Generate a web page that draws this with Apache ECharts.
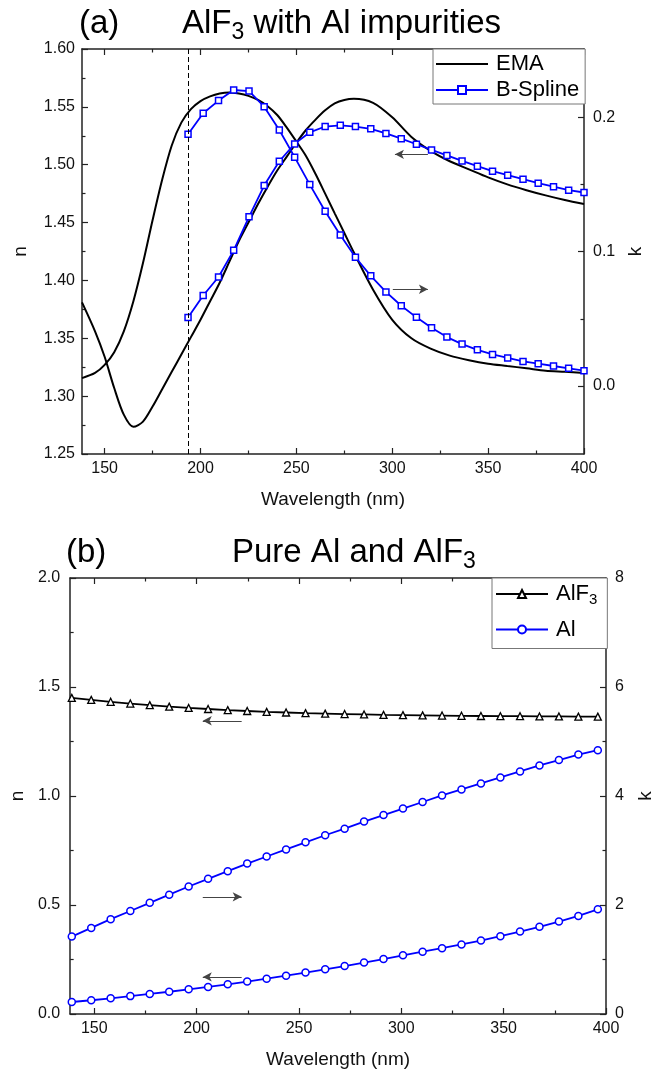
<!DOCTYPE html>
<html>
<head>
<meta charset="utf-8">
<script src="https://cdn.jsdelivr.net/npm/echarts@6/dist/echarts.min.js"></script>
<style>
  html, body { margin: 0; padding: 0; background: #fff; }
  #chart { width: 663px; height: 1074px; }
</style>
</head>
<body>
<div id="chart"></div>
<script>
// (a) EMA model, n and k
const emaWave = [138.2,145,150,155,160,165,170,175,180,185,190,195,200,205,210,215,220,225,230,235,240,245,250,255,260,265,270,275,280,290,300,310,320,330,340,350,360,370,380,390,400];
const emaN = [1.381,1.356,1.334,1.307,1.284,1.2735,1.278,1.291,1.306,1.321,1.336,1.351,1.366,1.382,1.398,1.416,1.434,1.450,1.466,1.481,1.495,1.507,1.519,1.530,1.539,1.547,1.553,1.556,1.557,1.5535,1.541,1.524,1.512,1.503,1.496,1.489,1.483,1.478,1.4735,1.4695,1.466];
const emaK = [0.0059,0.0097,0.0157,0.0252,0.0407,0.0631,0.0915,0.1234,0.1535,0.1790,0.1960,0.2060,0.2120,0.2155,0.2177,0.2185,0.2177,0.2159,0.2129,0.2082,0.2017,0.1923,0.1819,0.1712,0.1578,0.1432,0.1285,0.1139,0.0993,0.0717,0.0493,0.0355,0.0278,0.0226,0.0192,0.0166,0.0149,0.0132,0.0114,0.0106,0.0097];

// (a) B-Spline fit
const splineWave = [193.5,201.4,209.4,217.3,225.3,233.2,241.1,249.1,257.0,265.0,272.9,280.8,288.8,296.7,304.7,312.6,320.5,328.5,336.4,344.4,352.3,360.2,368.2,376.1,384.1,392.0,400.0];
const splineN = [1.368,1.387,1.403,1.426,1.455,1.482,1.503,1.518,1.528,1.533,1.534,1.533,1.531,1.527,1.5225,1.5177,1.5128,1.508,1.5033,1.4987,1.4944,1.491,1.4875,1.484,1.481,1.478,1.476];
const splineK = [0.1873,0.2030,0.2124,0.2203,0.2195,0.2079,0.1905,0.1703,0.1499,0.1301,0.1123,0.0958,0.0820,0.0700,0.0597,0.0511,0.0433,0.0364,0.0312,0.0269,0.0235,0.0209,0.0183,0.0166,0.0149,0.0132,0.0114];

// (b) pure Al and AlF3
const pureWave = [139.0,148.5,158.0,167.6,177.1,186.6,196.1,205.6,215.2,224.7,234.2,243.7,253.2,262.8,272.3,281.8,291.3,300.8,310.4,319.9,329.4,338.9,348.4,358.0,367.5,377.0,386.5,396.0];
const alf3N = [1.450,1.441,1.432,1.424,1.417,1.410,1.404,1.399,1.394,1.390,1.386,1.383,1.380,1.378,1.376,1.374,1.372,1.371,1.370,1.369,1.368,1.367,1.366,1.366,1.365,1.365,1.364,1.364];
const alK = [1.42,1.58,1.74,1.89,2.04,2.19,2.34,2.48,2.62,2.76,2.89,3.02,3.15,3.28,3.40,3.53,3.65,3.77,3.89,4.01,4.12,4.23,4.34,4.45,4.56,4.66,4.76,4.84];
const alN = [0.055,0.063,0.072,0.082,0.092,0.102,0.113,0.124,0.136,0.149,0.162,0.176,0.190,0.205,0.220,0.236,0.252,0.269,0.286,0.302,0.319,0.337,0.357,0.378,0.400,0.424,0.450,0.480];

// tick labels
const waveMajor = [150,200,250,300,350,400];
const waveMinor = [175,225,275,325,375];
const nTicksA = [1.25,1.30,1.35,1.40,1.45,1.50,1.55,1.60];
const nMinorA = [1.275,1.325,1.375,1.425,1.475,1.525,1.575];
const kTicksA = [0,0.1,0.2];
const kMinorA = [0.05,0.15];
const nTicksB = [0,0.5,1.0,1.5,2.0];
const nMinorB = [0.25,0.75,1.25,1.75];
const kTicksB = [0,2,4,6,8];
const kMinorB = [1,3,5,7];

const FONT = '"Liberation Sans", Arial, sans-serif';
const BLUE = '#0000ff';
const AXIS = '#222';

function zip(xs, ys) {
  return xs.map((x, i) => [x, ys[i]]);
}

// frame side with labels and major ticks
function xMain(grid, pos, show) {
  return {
    type: 'value', gridIndex: grid, position: pos, min: 138.2, max: 400,
    axisLine: { show: true, onZero: false, lineStyle: { color: AXIS, width: 1.5 } },
    axisTick: { show: true, inside: true, length: 6, customValues: waveMajor, lineStyle: { color: AXIS, width: 1.2 } },
    axisLabel: show ? { show: true, customValues: waveMajor, margin: 7, fontSize: 16, color: '#111', fontFamily: FONT } : { show: false },
    splitLine: { show: false },
    name: show ? 'Wavelength (nm)' : '', nameLocation: 'middle', nameGap: 36,
    nameTextStyle: { fontSize: 19, color: '#111', fontFamily: FONT }
  };
}
// minor ticks only
function xMinor(grid, pos) {
  return {
    type: 'value', gridIndex: grid, position: pos, min: 138.2, max: 400,
    axisLine: { show: false, onZero: false },
    axisTick: { show: true, inside: true, length: 3.5, customValues: waveMinor, lineStyle: { color: AXIS, width: 1.2 } },
    axisLabel: { show: false }, splitLine: { show: false }
  };
}
function yMain(grid, pos, min, max, ticks, fmt, name, gap, labelMargin) {
  return {
    type: 'value', gridIndex: grid, position: pos, min: min, max: max,
    axisLine: { show: true, onZero: false, lineStyle: { color: AXIS, width: 1.5 } },
    axisTick: { show: true, inside: true, length: 6, customValues: ticks, lineStyle: { color: AXIS, width: 1.2 } },
    axisLabel: { show: true, customValues: ticks, margin: labelMargin, fontSize: 16, color: '#111', fontFamily: FONT, formatter: fmt },
    splitLine: { show: false },
    name: name, nameLocation: 'middle', nameGap: gap, nameRotate: 90,
    nameTextStyle: { fontSize: 19, color: '#111', fontFamily: FONT }
  };
}
function yMinor(grid, pos, min, max, ticks) {
  return {
    type: 'value', gridIndex: grid, position: pos, min: min, max: max,
    axisLine: { show: false, onZero: false },
    axisTick: { show: true, inside: true, length: 3.5, customValues: ticks, lineStyle: { color: AXIS, width: 1.2 } },
    axisLabel: { show: false }, splitLine: { show: false }
  };
}

function arrow(from, to) {
  return {
    silent: true, symbol: ['none', 'arrow'], symbolSize: [7, 9],
    label: { show: false },
    lineStyle: { color: '#444', width: 1, type: 'solid' },
    data: [[{ coord: from }, { coord: to }]]
  };
}

const rich = {
  t: { fontSize: 33, fontFamily: FONT, color: '#000' },
  s: { fontSize: 23, fontFamily: FONT, color: '#000', padding: [18, 0, 0, 0] }
};

const chart = echarts.init(document.getElementById('chart'), null, { renderer: 'canvas' });

const option = {
  animation: false,
  backgroundColor: '#fff',
  grid: [
    { left: 82, top: 49, width: 502, height: 405 },
    { left: 67, top: 578, width: 541, height: 436 }
  ],
  xAxis: [
    xMain(0, 'bottom', true), xMinor(0, 'bottom'), xMain(0, 'top', false), xMinor(0, 'top'),
    xMain(1, 'bottom', true), xMinor(1, 'bottom'), xMain(1, 'top', false), xMinor(1, 'top')
  ],
  yAxis: [
    yMain(0, 'left', 1.25, 1.60, nTicksA, v => v.toFixed(2), 'n', 52, 7),
    yMinor(0, 'left', 1.25, 1.60, nMinorA),
    yMain(0, 'right', -0.0506, 0.2508, kTicksA, v => v.toFixed(1), 'k', 40, 9),
    yMinor(0, 'right', -0.0506, 0.2508, kMinorA),
    yMain(1, 'left', 0, 2, nTicksB, v => v.toFixed(1), 'n', 40, 10),
    yMinor(1, 'left', 0, 2, nMinorB),
    yMain(1, 'right', 0, 8, kTicksB, v => String(v), 'k', 30, 9),
    yMinor(1, 'right', 0, 8, kMinorB)
  ],
  legend: [
    {
      data: [{ name: 'EMA', itemStyle: { opacity: 0 } }, 'B-Spline'], left: 433, top: 49, orient: 'vertical',
      padding: [4, 6, 3, 2], itemGap: 4, itemWidth: 52, itemHeight: 10,
      borderColor: '#777', borderWidth: 1, backgroundColor: '#fff',
      textStyle: { rich: { a: { fontSize: 22, fontFamily: FONT, color: '#000', lineHeight: 24, padding: [0, 0, 0, 3] } } },
      formatter: name => '{a|' + name + '}'
    },
    {
      data: ['AlF3', 'Al'], left: 492, top: 578, orient: 'vertical',
      padding: [5, 10, 8, 3], itemGap: 11, itemWidth: 52, itemHeight: 10,
      borderColor: '#777', borderWidth: 1, backgroundColor: '#fff',
      textStyle: {
        rich: {
          a: { fontSize: 22, fontFamily: FONT, color: '#000', lineHeight: 24, padding: [0, 0, 0, 3] },
          s: { fontSize: 15, fontFamily: FONT, color: '#000', padding: [12, 0, 0, 0] }
        }
      },
      formatter: name => name === 'AlF3' ? '{a|AlF}{s|3}' : '{a|' + name + '}'
    }
  ],
  graphic: [
    { type: 'text', style: { text: '(a)', x: 79, y: 24, verticalAlign: 'middle', font: '33px ' + FONT, fill: '#000' } },
    { type: 'text', style: { text: '{t|AlF}{s|3}{t| with Al impurities}', x: 182, y: 24, verticalAlign: 'middle', rich: rich } },
    { type: 'text', style: { text: '(b)', x: 66, y: 553, verticalAlign: 'middle', font: '33px ' + FONT, fill: '#000' } },
    { type: 'text', style: { text: '{t|Pure Al and AlF}{s|3}', x: 232, y: 553, verticalAlign: 'middle', rich: rich } }
  ],
  series: [
    {
      name: 'EMA', type: 'line', xAxisIndex: 0, yAxisIndex: 0, data: zip(emaWave, emaN),
      smooth: 0.3, showSymbol: false, symbol: 'none', lineStyle: { color: '#000', width: 2 }, itemStyle: { color: '#000' },
      markLine: {
        silent: true, symbol: ['none', 'none'], label: { show: false },
        lineStyle: { color: '#000', width: 1, type: [5, 3] },
        data: [{ xAxis: 193.5 }]
      }
    },
    {
      name: 'EMA', type: 'line', xAxisIndex: 0, yAxisIndex: 2, data: zip(emaWave, emaK),
      smooth: 0.3, showSymbol: false, symbol: 'none', lineStyle: { color: '#000', width: 2 }, itemStyle: { color: '#000' }
    },
    {
      name: 'B-Spline', type: 'line', xAxisIndex: 0, yAxisIndex: 0, data: zip(splineWave, splineN),
      symbol: 'rect', symbolSize: 6, lineStyle: { color: BLUE, width: 1.8 },
      itemStyle: { color: '#fff', borderColor: BLUE, borderWidth: 1.5 },
      markLine: arrow([318.6, 1.509], [301.4, 1.509])
    },
    {
      name: 'B-Spline', type: 'line', xAxisIndex: 0, yAxisIndex: 2, data: zip(splineWave, splineK),
      symbol: 'rect', symbolSize: 6, lineStyle: { color: BLUE, width: 1.8 },
      itemStyle: { color: '#fff', borderColor: BLUE, borderWidth: 1.5 },
      markLine: arrow([300.3, 0.072], [318.6, 0.072])
    },
    {
      name: 'AlF3', type: 'line', xAxisIndex: 4, yAxisIndex: 4, data: zip(pureWave, alf3N),
      symbol: 'triangle', symbolSize: 7, lineStyle: { color: '#000', width: 1.8 },
      itemStyle: { color: '#fff', borderColor: '#000', borderWidth: 1.3 },
      markLine: arrow([222, 1.345], [203, 1.345])
    },
    {
      name: 'Al', type: 'line', xAxisIndex: 4, yAxisIndex: 6, data: zip(pureWave, alK),
      symbol: 'circle', symbolSize: 7, lineStyle: { color: BLUE, width: 1.8 },
      itemStyle: { color: '#fff', borderColor: BLUE, borderWidth: 1.5 },
      markLine: arrow([203, 2.15], [222, 2.15])
    },
    {
      name: 'Al', type: 'line', xAxisIndex: 4, yAxisIndex: 4, data: zip(pureWave, alN),
      symbol: 'circle', symbolSize: 7, lineStyle: { color: BLUE, width: 1.8 },
      itemStyle: { color: '#fff', borderColor: BLUE, borderWidth: 1.5 },
      markLine: arrow([222, 0.17], [203, 0.17])
    }
  ]
};

chart.setOption(option);
</script>
</body>
</html>
